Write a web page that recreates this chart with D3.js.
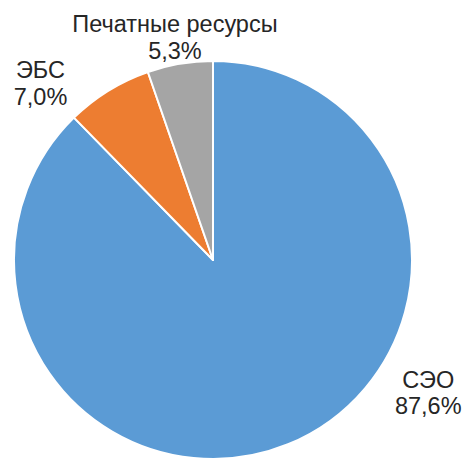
<!DOCTYPE html>
<html>
<head>
<meta charset="utf-8">
<script src="https://cdn.jsdelivr.net/npm/d3@7"></script>
<style>
    body { margin: 0; background: #fff; }
</style>
</head>
<body>
<div id="pie-chart"></div>
<script>
const categories = ["СЭО", "ЭБС", "Печатные ресурсы"];
const shares = [87.6, 7.0, 5.3];
const shareLabels = ["87,6%", "7,0%", "5,3%"];
const colors = ["#5b9bd5", "#ed7d31", "#a5a5a5"];

const drawPieChart = () => {

    const width = 464;
    const height = 461;
    const radius = 199;
    const cx = 213;
    const cy = 260;

    const svg = d3.select("#pie-chart")
        .append("svg")
        .attr("width", width)
        .attr("height", height)
        .attr("viewBox", `0, 0, ${width}, ${height}`);

    const innerChart = svg
        .append("g")
        .attr("transform", `translate(${cx}, ${cy})`);

    const data = categories.map((c, i) => ({ category: c, value: shares[i], label: shareLabels[i], color: colors[i] }));

    const pieGenerator = d3.pie()
        .value(d => d.value)
        .sort(null);

    const arcGenerator = d3.arc()
        .innerRadius(0)
        .outerRadius(radius);

    const arcs = pieGenerator(data);

    innerChart
        .selectAll("path")
        .data(arcs)
        .join("path")
            .attr("d", arcGenerator)
            .attr("fill", d => d.data.color)
            .attr("stroke", "#fff")
            .attr("stroke-width", 2)
            .attr("stroke-linejoin", "round");

    // label placement (angle clockwise from top in degrees, distance from centre)
    const labelPlacement = {
        "СЭО": { angle: 121.7, dist: 253 },
        "ЭБС": { angle: -44.3, dist: 247 },
        "Печатные ресурсы": { angle: -9.7, dist: 226 }
    };

    const labels = innerChart
        .selectAll("text")
        .data(arcs)
        .join("text")
            .attr("text-anchor", "middle")
            .style("font-family", "'Liberation Sans', Arial, sans-serif")
            .style("font-size", "23.5px")
            .attr("fill", "#262626")
            .attr("transform", d => {
                const p = labelPlacement[d.data.category];
                const a = p.angle * Math.PI / 180;
                return `translate(${p.dist * Math.sin(a)}, ${-p.dist * Math.cos(a)})`;
            });

    labels.append("tspan")
        .attr("x", 0)
        .attr("y", -5)
        .text(d => d.data.category);

    labels.append("tspan")
        .attr("x", 0)
        .attr("y", 21.5)
        .text(d => d.data.label);
};

drawPieChart();
</script>
</body>
</html>
